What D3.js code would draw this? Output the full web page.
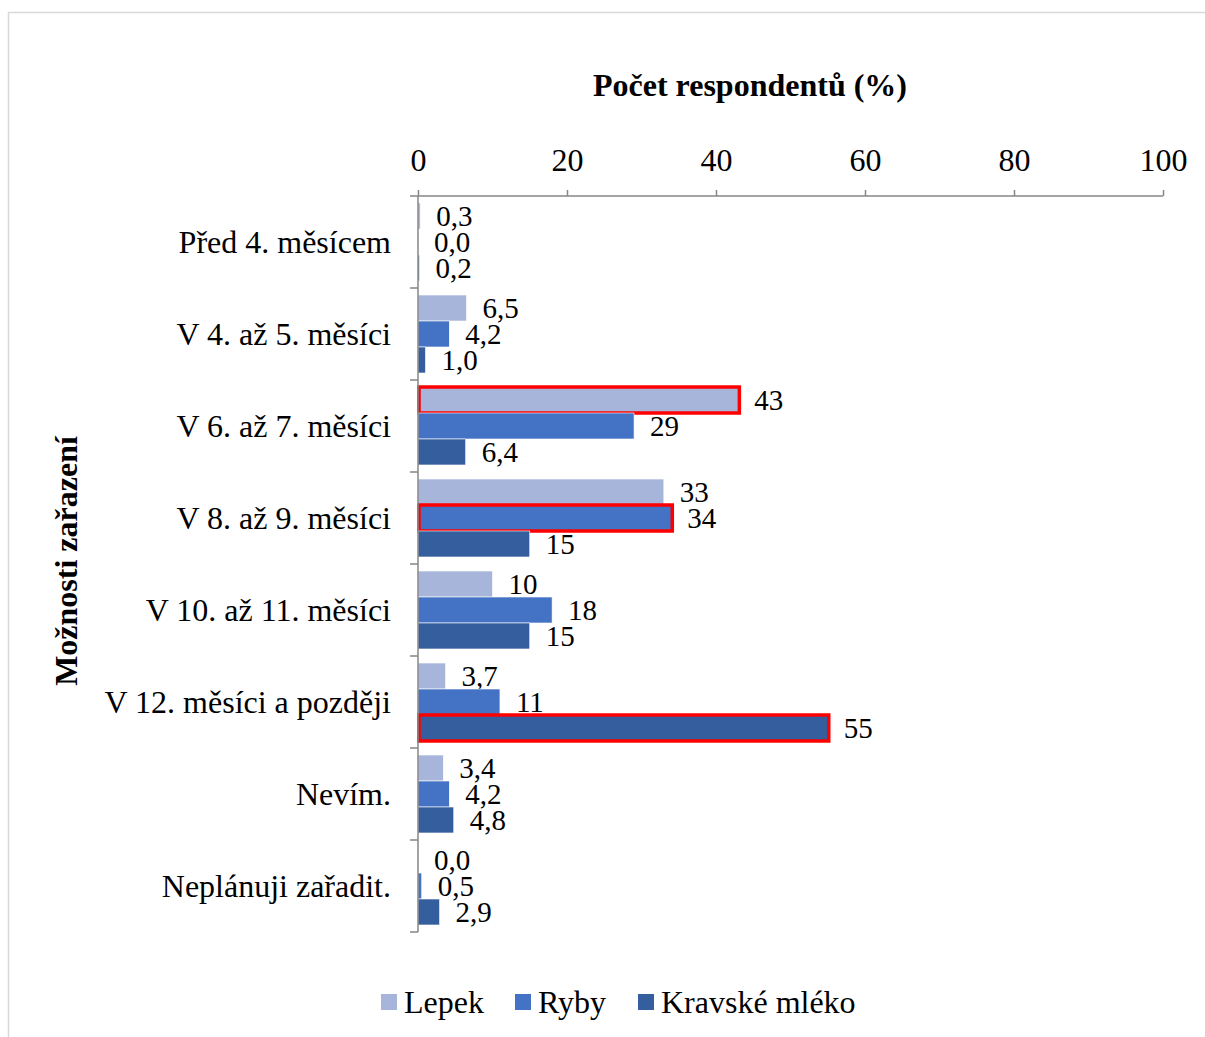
<!DOCTYPE html>
<html>
<head>
<meta charset="utf-8">
<script src="https://cdn.jsdelivr.net/npm/d3@7"></script>
<style>
  html, body { margin: 0; padding: 0; background: #fff; }
  svg { display: block; }
  text { font-family: "Liberation Serif", "Times New Roman", serif; fill: #000; }
</style>
</head>
<body>
<svg id="chart" width="1205" height="1037"></svg>
<script>
// Kdy rodiče plánují zařadit alergeny do stravy dítěte
const categories = [
  "Před 4. měsícem",
  "V 4. až 5. měsíci",
  "V 6. až 7. měsíci",
  "V 8. až 9. měsíci",
  "V 10. až 11. měsíci",
  "V 12. měsíci a později",
  "Nevím.",
  "Neplánuji zařadit."
];
const seriesNames = ["Lepek", "Ryby", "Kravské mléko"];
const lepek   = [0.3, 6.5, 43, 33, 10, 3.7, 3.4, 0.0];
const ryby    = [0.0, 4.2, 29, 34, 18, 11, 4.2, 0.5];
const kravske = [0.2, 1.0, 6.4, 15, 15, 55, 4.8, 2.9];
const xTicks  = [0, 20, 40, 60, 80, 100];
const colors  = ["#a7b5db", "#4472c4", "#355e9f"];

const seriesValues = [lepek, ryby, kravske];

const svg = d3.select("#chart");

// rámeček grafu
svg.append("rect")
  .attr("x", 8.5).attr("y", 12.5)
  .attr("width", 1205).attr("height", 1040)
  .attr("fill", "none").attr("stroke", "#d9d9d9").attr("stroke-width", 1.5);

const plot = { left: 418, right: 1163, top: 196, bottom: 932 };

const x = d3.scaleLinear().domain([0, 100]).range([plot.left, plot.right]);
const y = d3.scaleBand().domain(categories).range([plot.top, plot.bottom]).padding(0);
const ySub = d3.scaleBand().domain(seriesNames)
  .range([0, y.bandwidth()]).paddingInner(0).paddingOuter(0.27);

const fmt = v => v < 10 ? d3.format(".1f")(v).replace(".", ",") : d3.format(".0f")(v);

// sloupce
const groups = svg.append("g").selectAll("g")
  .data(categories)
  .join("g")
  .attr("transform", d => `translate(0,${y(d)})`);

seriesNames.forEach((name, si) => {
  const vals = seriesValues[si];
  const maxIdx = d3.maxIndex(vals);
  groups.append("rect")
    .attr("x", x(0))
    .attr("y", ySub(name))
    .attr("width", (d, i) => x(vals[i]) - x(0))
    .attr("height", ySub.bandwidth())
    .attr("fill", colors[si])
    .attr("stroke", "#fff")
    .attr("stroke-width", 0.6);

  // zvýraznění nejčastější odpovědi
  groups.filter((d, i) => i === maxIdx)
    .append("rect")
    .attr("x", x(0) + 1)
    .attr("y", ySub(name))
    .attr("width", (d, i) => x(vals[maxIdx]) - x(0))
    .attr("height", ySub.bandwidth())
    .attr("fill", "none")
    .attr("stroke", "#ff0000")
    .attr("stroke-width", 3.5);

  groups.append("text")
    .attr("x", (d, i) => x(vals[i]) + 16)
    .attr("y", ySub(name) + ySub.bandwidth() / 2)
    .attr("dy", "0.35em")
    .attr("font-size", 29)
    .text((d, i) => fmt(vals[i]));
});

// osa x nahoře
const xAxis = svg.append("g")
  .attr("transform", `translate(0,${plot.top})`)
  .call(d3.axisTop(x).tickValues(xTicks).tickSize(6).tickPadding(19).tickSizeOuter(0));
xAxis.select(".domain").remove();
xAxis.append("line")
  .attr("x1", plot.left - 8).attr("x2", plot.right)
  .attr("y1", 0).attr("y2", 0)
  .attr("stroke", "#868686").attr("stroke-width", 1.5);
xAxis.selectAll(".tick line").attr("stroke", "#868686").attr("stroke-width", 1.5);
xAxis.selectAll(".tick text")
  .attr("font-family", "Liberation Serif, serif")
  .attr("font-size", 32).attr("fill", "#000");

// osa y s dělícími značkami mezi kategoriemi
const yAxis = svg.append("g");
yAxis.append("line")
  .attr("x1", plot.left).attr("x2", plot.left)
  .attr("y1", plot.top).attr("y2", plot.bottom)
  .attr("stroke", "#868686").attr("stroke-width", 1.5);
const boundaries = categories.map(c => y(c)).concat([plot.bottom]);
yAxis.selectAll("line.tick")
  .data(boundaries.slice(1))
  .join("line")
  .attr("class", "tick")
  .attr("x1", plot.left - 8).attr("x2", plot.left)
  .attr("y1", d => d).attr("y2", d => d)
  .attr("stroke", "#868686").attr("stroke-width", 1.5);
yAxis.selectAll("text")
  .data(categories)
  .join("text")
  .attr("x", 391)
  .attr("y", d => y(d) + y.bandwidth() / 2)
  .attr("dy", "0.35em")
  .attr("text-anchor", "end")
  .attr("font-size", 32)
  .text(d => d);

// názvy os
svg.append("text")
  .attr("x", 750).attr("y", 85)
  .attr("dy", "0.35em")
  .attr("text-anchor", "middle")
  .attr("font-size", 32).attr("font-weight", "bold")
  .text("Počet respondentů (%)");

svg.append("text")
  .attr("transform", "translate(66,561) rotate(-90)")
  .attr("dy", "0.35em")
  .attr("text-anchor", "middle")
  .attr("font-size", 32).attr("font-weight", "bold")
  .text("Možnosti zařazení");

// legenda
const legendX = [381, 515, 638];
const legend = svg.append("g").selectAll("g")
  .data(seriesNames)
  .join("g")
  .attr("transform", (d, i) => `translate(${legendX[i]},1002)`);
legend.append("rect")
  .attr("x", 0).attr("y", -8)
  .attr("width", 16).attr("height", 16)
  .attr("fill", (d, i) => colors[i]);
legend.append("text")
  .attr("x", 23).attr("y", 0)
  .attr("dy", "0.35em")
  .attr("font-size", 32)
  .text(d => d);
</script>
</body>
</html>
